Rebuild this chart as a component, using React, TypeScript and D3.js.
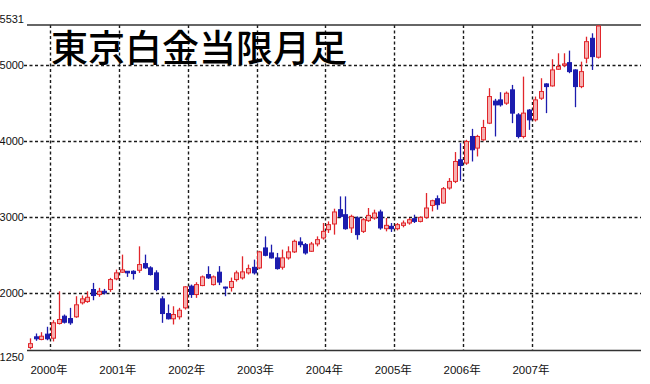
import React from "react";
import * as d3 from "d3";

const months: string[] = (() => {
  const out: string[] = [];
  for (let y = 1999; y <= 2007; y++) {
    for (let m = 1; m <= 12; m++) {
      if (y === 1999 && m < 9) continue;
      out.push(`${y}-${String(m).padStart(2, "0")}`);
    }
  }
  return out;
})();

const opens = [1290,1430,1395,1465,1412,1605,1701,1670,1693,1877,1894,2052,1986,2029,2052,2192,2280,2292,2292,2305,2393,2337,2271,1929,1736,1667,1693,1811,2096,1986,2104,2249,2117,2280,2084,2078,2183,2205,2271,2344,2336,2599,2533,2468,2345,2468,2547,2678,2642,2555,2652,2730,2839,2914,3102,3036,2862,2993,2817,2958,2993,3072,2852,2883,2852,2896,2927,2984,2948,3001,3158,3246,3190,3387,3474,3758,3715,4065,3912,4021,4240,4530,4546,4503,4678,4349,4065,4412,4284,4568,4756,4730,4949,5001,5036,4940,4721,5094,5356,5107];
const highs = [1410,1474,1491,1562,1649,2029,1723,1811,1964,1973,2029,2139,2074,2060,2205,2314,2511,2295,2305,2620,2511,2358,2305,1964,1855,1832,1811,2096,2117,2148,2236,2358,2236,2360,2090,2209,2301,2489,2380,2445,2560,2751,2642,2533,2577,2620,2708,2739,2664,2678,2751,2927,2948,3115,3277,3277,3036,3014,2993,3124,3102,3102,2993,2927,2927,2960,2993,3036,3014,3321,3233,3290,3400,3518,3860,3978,4021,4165,4087,4284,4700,4560,4647,4656,4743,4372,4852,4425,4590,4831,4765,5081,5159,5159,5194,4949,5049,5377,5422,5531];
const lows = [1265,1378,1385,1385,1369,1592,1605,1588,1680,1855,1877,1911,1956,1986,2021,2174,2271,2218,2183,2271,2323,2236,2029,1614,1658,1592,1658,1789,1942,1942,2096,2192,2104,2110,1964,2025,2157,2183,2249,2249,2320,2489,2459,2314,2314,2445,2533,2607,2511,2547,2620,2708,2796,2774,2993,2839,2796,2708,2796,2941,2970,2839,2817,2809,2830,2870,2905,2927,2935,2984,3080,3102,3180,3365,3452,3483,3692,3736,3802,4008,4228,4065,4458,4481,4240,4040,4040,4152,4262,4546,4372,4721,4940,4976,4897,4450,4700,5028,4940,5090];
const closes = [1340,1404,1438,1404,1614,1658,1622,1614,1851,1929,1950,1973,2029,2008,2183,2271,2310,2271,2262,2380,2337,2249,2052,1736,1667,1723,1780,2087,1986,2117,2218,2205,2218,2150,2071,2157,2271,2284,2327,2271,2547,2502,2468,2327,2468,2547,2686,2642,2533,2651,2708,2817,2905,3072,3014,2852,3014,2774,2970,3027,3058,2862,2896,2852,2905,2927,2970,2948,3001,3124,3220,3168,3378,3474,3736,3683,3999,3890,4065,4183,4590,4480,4481,4634,4372,4065,4372,4284,4546,4656,4721,4940,4984,5019,4918,4721,4918,5312,5115,5518];

const yTicks = [2000, 3000, 4000, 5000];
const yMin = 1250;
const yMax = 5531;
const yearLabels = ["2000年", "2001年", "2002年", "2003年", "2004年", "2005年", "2006年", "2007年"];
const title = "東京白金当限月足";
const totalSlots = 107;

export default function App() {
  const W = 650, H = 384;
  const left = 27, right = 641, top = 25, bottom = 350.5;
  const x = d3.scaleLinear().domain([0, totalSlots]).range([left, right]);
  const y = d3.scaleLinear().domain([yMin, yMax]).range([bottom, top]);

  const yearIdx = yearLabels.map((lab) => months.indexOf(`${lab.slice(0, 4)}-01`));
  const labelFont = "'Liberation Sans', 'Noto Sans CJK JP', sans-serif";
  const bw = 4;

  return (
    <svg width={W} height={H} style={{ position: "absolute", left: 0, top: 0, background: "#fff" }}>
      <rect x={0} y={0} width={W} height={H} fill="#fff" />
      {yTicks.map((t) => (
        <line key={t} x1={24} x2={right} y1={Math.round(y(t)) + 0.5} y2={Math.round(y(t)) + 0.5}
          stroke="#1a1a1a" strokeWidth={1.4} strokeDasharray="3,2.5" />
      ))}
      {yearIdx.map((i, k) => (
        <line key={k} x1={Math.round(x(i)) + 0.5} x2={Math.round(x(i)) + 0.5} y1={top} y2={bottom}
          stroke="#1a1a1a" strokeWidth={1.4} strokeDasharray="3,2.5" />
      ))}
      <line x1={left} x2={right} y1={top} y2={top} stroke="#333" strokeWidth={1.5} />
      <line x1={left} x2={right} y1={bottom} y2={bottom} stroke="#333" strokeWidth={1.5} />
      <text x={24} y={top - 2} textAnchor="end" fontSize={11} fontFamily={labelFont} fill="#111">{yMax}</text>
      {yTicks.map((t) => (
        <text key={t} x={24} y={y(t) + 4} textAnchor="end" fontSize={11} fontFamily={labelFont} fill="#111">{t}</text>
      ))}
      <text x={24} y={bottom + 10} textAnchor="end" fontSize={11} fontFamily={labelFont} fill="#111">{yMin}</text>
      {yearIdx.map((i, k) => (
        <text key={k} x={x(i) - 1} y={374} textAnchor="middle" fontSize={11.5} fontFamily={labelFont} fill="#111">{yearLabels[k]}</text>
      ))}
      {months.map((m, i) => {
        const cx = Math.round(x(i + 0.5)) + 0.5;
        const o = opens[i], c = closes[i], h = highs[i], l = lows[i];
        const up = c >= o;
        const col = up ? "#e1262b" : "#1c1cae";
        const fill = up ? "#f6b0b0" : "#1c1cae";
        const yt = y(Math.max(o, c));
        const yb = y(Math.min(o, c));
        return (
          <g key={m}>
            <line x1={cx} x2={cx} y1={y(h)} y2={y(l)} stroke={col} strokeWidth={1.3} />
            <rect x={cx - bw / 2} y={yt} width={bw} height={Math.max(1, yb - yt)} fill={fill} stroke={col} strokeWidth={1} />
          </g>
        );
      })}
      <text x={51} y={62} fontSize={37} fontWeight={500} fontFamily="'Noto Sans CJK JP', sans-serif" fill="#000">{title}</text>
    </svg>
  );
}
